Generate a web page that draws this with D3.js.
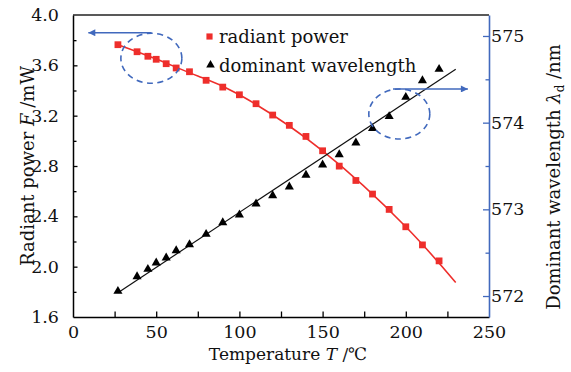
<!DOCTYPE html>
<html><head><meta charset="utf-8">
<script src="https://cdn.jsdelivr.net/npm/d3@7"></script>
<style>
body{margin:0;background:#fff;}
text{font-family:"DejaVu Serif",serif;fill:#111;}
</style></head>
<body><svg id="c" width="571" height="372"></svg>
<script>
// ---- data ----
const temps = [27, 38.5, 45, 50, 56, 62, 70, 80, 90, 100, 110, 120, 130, 140, 150, 160, 170, 180, 190, 200, 210, 220];
const power = [3.764, 3.708, 3.672, 3.648, 3.613, 3.579, 3.549, 3.481, 3.427, 3.366, 3.295, 3.205, 3.123, 3.035, 2.921, 2.799, 2.685, 2.577, 2.455, 2.317, 2.173, 2.046];
const wavelength = [572.061, 572.231, 572.315, 572.389, 572.447, 572.531, 572.600, 572.719, 572.854, 572.943, 573.070, 573.165, 573.266, 573.401, 573.520, 573.638, 573.774, 573.939, 574.077, 574.300, 574.492, 574.623];
const powerFitT = [27, 50, 75, 100, 150, 200, 230];
const powerFit = [3.764, 3.650, 3.515, 3.366, 2.921, 2.317, 1.874];
const waveFitT = [27, 230];
const waveFit = [572.038, 574.616];
const xTicks = [0, 50, 100, 150, 200, 250];
const xMinor = [25, 75, 125, 175, 225];
const yTicks = [1.6, 2.0, 2.4, 2.8, 3.2, 3.6, 4.0];
const yMinor = [1.8, 2.2, 2.6, 3.0, 3.4, 3.8];
const y2Ticks = [572, 573, 574, 575];
const y2Minor = [572.5, 573.5, 574.5];
const seriesNames = ["radiant power", "dominant wavelength"];

const W = 571, H = 372;
const m = {l: 73, r: 82, t: 15, b: 55};
const svg = d3.select("#c");
const x = d3.scaleLinear().domain([0, 250]).range([m.l, W - m.r]);
const y = d3.scaleLinear().domain([1.6, 4.0]).range([H - m.b, m.t]);
const y2 = d3.scaleLinear().domain([571.758, 575.242]).range([H - m.b, m.t]);
const red = "#ee2e2b", blue = "#4169bd";
const tickFont = 17.5;

// frame top line
svg.append("line").attr("x1", x(0)).attr("x2", x(250)).attr("y1", y(4.0)).attr("y2", y(4.0))
  .attr("stroke", "#222").attr("stroke-width", 1.5);

// bottom axis
const gx = svg.append("g").attr("transform", `translate(0,${y(1.6)})`)
  .call(d3.axisBottom(x).tickValues(xTicks).tickSizeInner(-5.5).tickSizeOuter(0).tickPadding(9).tickFormat(d3.format("d")));
gx.selectAll(".tick").filter(d => d === 0 || d === 250).select("line").remove();
gx.selectAll(".tick line").attr("stroke-width", 1.3);
svg.append("g").attr("transform", `translate(0,${y(1.6)})`)
  .call(d3.axisBottom(x).tickValues(xMinor).tickSizeInner(-5.5).tickSizeOuter(0).tickFormat(""))
  .call(g => g.select(".domain").remove())
  .selectAll(".tick line").attr("stroke-width", 1.3);
gx.select(".domain").attr("stroke-width", 1.5);
gx.selectAll("text").attr("font-size", tickFont).attr("fill", "#111");

// left axis
const gy = svg.append("g").attr("transform", `translate(${x(0)},0)`)
  .call(d3.axisLeft(y).tickValues(yTicks).tickSizeInner(-4.5).tickSizeOuter(0).tickPadding(14).tickFormat(d3.format(".1f")));
gy.selectAll(".tick").filter(d => d === 1.6 || d === 4.0).select("line").remove();
gy.selectAll(".tick line").attr("stroke-width", 1.3);
gy.select(".domain").attr("stroke-width", 1.5);
gy.selectAll("text").attr("font-size", tickFont).attr("fill", "#111");
svg.append("g").attr("transform", `translate(${x(0)},0)`)
  .call(d3.axisLeft(y).tickValues(yMinor).tickSizeInner(-3.5).tickSizeOuter(0).tickFormat(""))
  .call(g => g.select(".domain").remove())
  .selectAll(".tick line").attr("stroke-width", 1.3);

// right axis (blue)
const gy2 = svg.append("g").attr("transform", `translate(${x(250)},0)`)
  .call(d3.axisRight(y2).tickValues(y2Ticks).tickSizeInner(-6).tickSizeOuter(0).tickPadding(2).tickFormat(d3.format("d")));
gy2.select(".domain").attr("stroke", blue).attr("stroke-width", 1.6);
gy2.selectAll(".tick line").attr("stroke", blue).attr("stroke-width", 1.3);
gy2.selectAll("text").attr("font-size", tickFont).attr("fill", "#111").attr("x", 2);
svg.append("g").attr("transform", `translate(${x(250)},0)`)
  .call(d3.axisRight(y2).tickValues(y2Minor).tickSizeInner(-3.5).tickSizeOuter(0).tickFormat(""))
  .call(g => g.select(".domain").remove())
  .selectAll(".tick line").attr("stroke", blue).attr("stroke-width", 1.3);

// fit lines
const lineP = d3.line().x((d, i) => x(powerFitT[i])).y(d => y(d)).curve(d3.curveNatural);
svg.append("path").attr("d", lineP(powerFit)).attr("fill", "none").attr("stroke", red).attr("stroke-width", 1.6);
const lineW = d3.line().x((d, i) => x(waveFitT[i])).y(d => y2(d));
svg.append("path").attr("d", lineW(waveFit)).attr("fill", "none").attr("stroke", "#111").attr("stroke-width", 1.2);

// markers
const sq = d3.symbol().type(d3.symbolSquare).size(46);
const tri = d3.symbol().type(d3.symbolTriangle).size(36);
svg.append("g").selectAll("path").data(power).join("path")
  .attr("d", sq).attr("fill", red)
  .attr("transform", (d, i) => `translate(${x(temps[i])},${y(d)})`);
svg.append("g").selectAll("path").data(wavelength).join("path")
  .attr("d", tri).attr("fill", "#000")
  .attr("transform", (d, i) => `translate(${x(temps[i])},${y2(d) + 0.5})`);

// annotations: dashed ellipses and arrows
const ellipses = [{t: 47.1, v: 3.656}, {t: 196.1, v: 3.213}];
svg.append("g").selectAll("ellipse").data(ellipses).join("ellipse")
  .attr("cx", d => x(d.t)).attr("cy", d => y(d.v)).attr("rx", 30.5).attr("ry", 25)
  .attr("fill", "none").attr("stroke", blue).attr("stroke-width", 1.6).attr("stroke-dasharray", "6,4.5");
const defs = svg.append("defs");
defs.append("marker").attr("id", "ah").attr("viewBox", "0 0 10 10").attr("refX", 10).attr("refY", 5)
  .attr("markerWidth", 9).attr("markerHeight", 7).attr("markerUnits", "userSpaceOnUse").attr("orient", "auto")
  .append("path").attr("d", "M0,0L10,5L0,10Z").attr("fill", blue);
const arrows = [{t0: 47.2, t1: 9.2, v: 3.859}, {t0: 192.3, t1: 237.3, v: 3.412}];
svg.append("g").selectAll("line").data(arrows).join("line")
  .attr("x1", d => x(d.t0)).attr("x2", d => x(d.t1)).attr("y1", d => y(d.v)).attr("y2", d => y(d.v))
  .attr("stroke", blue).attr("stroke-width", 1.6).attr("marker-end", "url(#ah)");

// legend
const lg = svg.append("g");
lg.append("path").attr("d", d3.symbol().type(d3.symbolSquare).size(38)).attr("fill", red).attr("transform", "translate(209.5,36.5)");
lg.append("path").attr("d", d3.symbol().type(d3.symbolTriangle).size(32)).attr("fill", "#000").attr("transform", "translate(210.5,65)");
lg.append("text").attr("x", 219).attr("y", 42.5).attr("font-size", 18).text(seriesNames[0]);
lg.append("text").attr("x", 219).attr("y", 71.5).attr("font-size", 18).text(seriesNames[1]);

// axis titles
const xt = svg.append("text").attr("x", 288).attr("y", 359.5).attr("text-anchor", "middle").attr("font-size", 17);
xt.append("tspan").text("Temperature ");
xt.append("tspan").attr("font-style", "italic").text("T");
xt.append("tspan").text(" /\u2103");

const yt = svg.append("text").attr("transform", "translate(34,166) rotate(-90)").attr("text-anchor", "middle").attr("font-size", 18);
yt.append("tspan").text("Radiant power ");
yt.append("tspan").attr("font-style", "italic").text("F");
yt.append("tspan").text(" /mW");

const yt2 = svg.append("text").attr("transform", "translate(560,177) rotate(-90)").attr("text-anchor", "middle").attr("font-size", 18);
yt2.append("tspan").text("Dominant wavelength ");
yt2.append("tspan").attr("font-style", "italic").text("\u03bb");
yt2.append("tspan").attr("font-size", 12).attr("dy", 4).text("d");
yt2.append("tspan").attr("dy", -4).text(" /nm");
</script></body></html>
